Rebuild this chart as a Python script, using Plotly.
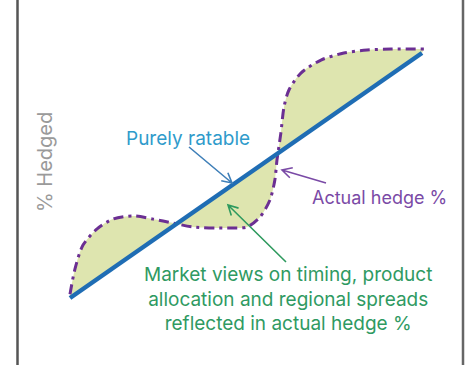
import plotly.graph_objects as go
import math

# ---- data (time 0..100, % hedged) ----
ratable_x = [0, 100]
ratable_y = [0, 100]

actual_x = [0.0, 1.4, 3.7, 7.7, 12.2, 17.9, 23.6, 29.3, 34.9, 44.6, 50.3, 54.0,
            56.8, 58.2, 58.8, 59.9, 60.8, 62.2, 65.6, 71.3, 77.8, 84.4, 91.2, 100.6]
actual_y = [1.5, 11.8, 21.6, 28.2, 32.2, 33.5, 32.2, 30.6, 29.0, 28.6, 29.0, 33.1,
            40.0, 48.2, 56.3, 67.3, 78.0, 84.9, 91.8, 97.1, 100.0, 101.2, 101.6, 101.6]

W, H = 468, 365
# screen-pixel mapping: x=0 at px 70, x=100 at px 422 ; y=0 at py 298, y=100 at py 53
XS, YS = 3.52, 2.45
def dx(px):
    return (px - 70) / XS
def dy(py):
    return (298 - py) / YS

fig = go.Figure()
fig.add_trace(go.Scatter(x=ratable_x, y=ratable_y, mode="lines",
                         line=dict(width=0, color="rgba(0,0,0,0)"),
                         hoverinfo="skip", showlegend=False))
fig.add_trace(go.Scatter(x=actual_x, y=actual_y, mode="lines", fill="tonexty",
                         fillcolor="#dee5af",
                         line=dict(color="#6b2f93", width=3, shape="spline", smoothing=0.8,
                                   dash="10px,5px,3px,5px"),
                         showlegend=False))
fig.add_trace(go.Scatter(x=ratable_x, y=ratable_y, mode="lines",
                         line=dict(color="#1f6db4", width=4.5), showlegend=False))

shapes = []
for sx, col in ((17.5, "#555555"), (463, "#666666")):
    shapes.append(dict(type="line", xref="x", yref="paper", x0=dx(sx), x1=dx(sx), y0=-0.1, y1=1.1,
                       line=dict(color=col, width=2.5)))

def arrow(tail, head, color, width=1.6, hl=11, ang=28):
    (tx, ty), (hx, hy) = tail, head
    a = math.atan2(ty - hy, tx - hx)
    p1 = (hx + hl * math.cos(a + math.radians(ang)), hy + hl * math.sin(a + math.radians(ang)))
    p2 = (hx + hl * math.cos(a - math.radians(ang)), hy + hl * math.sin(a - math.radians(ang)))
    path = (f"M {dx(tx)},{dy(ty)} L {dx(hx)},{dy(hy)} "
            f"M {dx(p1[0])},{dy(p1[1])} L {dx(hx)},{dy(hy)} L {dx(p2[0])},{dy(p2[1])}")
    shapes.append(dict(type="path", xref="x", yref="y", path=path,
                       line=dict(color=color, width=width)))

arrow((189, 147), (232, 183), "#3f7fb8")
arrow((326, 183), (282, 170), "#7a4aa6")
arrow((286, 262), (228, 205), "#2e9a5e")

FONT = "Inter"
annotations = [
    dict(x=dx(45), y=dy(162), text="% Hedged", textangle=-90, showarrow=False,
         font=dict(family=FONT, size=20, color="#9a9a9a")),
    dict(x=dx(188), y=dy(138), text="Purely ratable", showarrow=False,
         font=dict(family=FONT, size=19, color="#2f9bcb")),
    dict(x=dx(379), y=dy(197), text="Actual hedge %", showarrow=False,
         font=dict(family=FONT, size=18, color="#7a4aa6")),
    dict(x=dx(288), y=dy(298.5), showarrow=False, align="center",
         text="Market views on timing, product<br>allocation and regional spreads<br>reflected in actual hedge %",
         font=dict(family=FONT, size=19, color="#2f9a62")),
]

fig.update_layout(
    width=W, height=H, autosize=False,
    margin=dict(l=0, r=0, t=0, b=0),
    paper_bgcolor="white", plot_bgcolor="white",
    hovermode=False,
    xaxis=dict(range=[dx(0), dx(W)], visible=False, fixedrange=True),
    yaxis=dict(range=[dy(H), dy(0)], visible=False, fixedrange=True),
    shapes=shapes, annotations=annotations, showlegend=False,
)
fig.write_html("out.html", config={"displayModeBar": False, "staticPlot": True},
               post_script="document.body.style.margin='0';document.body.style.overflow='hidden';")
